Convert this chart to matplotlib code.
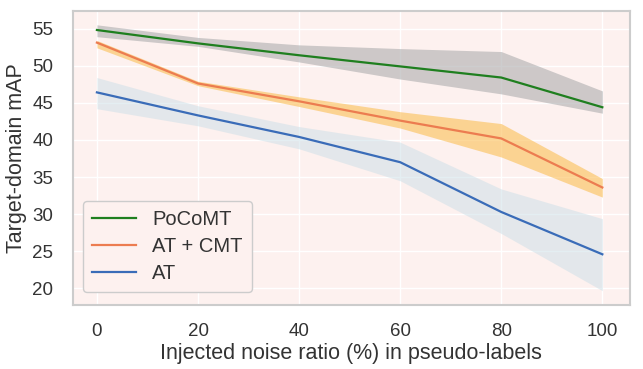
import numpy as np
import matplotlib.pyplot as plt

# noise ratio (%) injected into pseudo-labels
noise = [0, 20, 40, 60, 80, 100]

# mean target-domain mAP and band limits
pocomt = [54.8, 53.0, 51.4, 49.9, 48.4, 44.4]
pocomt_hi = [55.5, 53.8, 52.8, 52.3, 51.9, 46.6]
pocomt_lo = [53.9, 52.6, 50.5, 48.2, 46.2, 43.6]

atcmt = [53.1, 47.6, 45.2, 42.6, 40.2, 33.6]
atcmt_hi = [53.4, 47.9, 45.8, 43.8, 42.2, 34.8]
atcmt_lo = [52.4, 47.3, 44.5, 41.6, 37.7, 32.3]

at = [46.4, 43.3, 40.4, 37.0, 30.3, 24.6]
at_hi = [48.4, 44.6, 41.8, 39.7, 33.4, 29.4]
at_lo = [44.2, 41.9, 38.8, 34.5, 27.4, 19.7]

yticks = [20, 25, 30, 35, 40, 45, 50, 55]
xticks = [0, 20, 40, 60, 80, 100]

plt.rcParams['font.family'] = ['Liberation Sans', 'DejaVu Sans']

fig = plt.figure(figsize=(6.43, 3.69), dpi=100)
ax = fig.add_axes([0.113, 0.174, 0.867, 0.795])
ax.set_facecolor('#fdf1ef')

ax.fill_between(noise, pocomt_lo, pocomt_hi, color='#adadae', alpha=0.6, lw=0)
ax.fill_between(noise, atcmt_lo, atcmt_hi, color='#fbbf55', alpha=0.6, lw=0)
ax.fill_between(noise, at_lo, at_hi, color='#cfe0e8', alpha=0.55, lw=0)

ax.plot(noise, pocomt, color='#1f7f1f', lw=1.6, label='PoCoMT')
ax.plot(noise, atcmt, color='#ec7c50', lw=1.6, label='AT + CMT')
ax.plot(noise, at, color='#3a6cb8', lw=1.6, label='AT')

ax.set_xlim(-4.8, 105.5)
ax.set_ylim(17.8, 57.3)
ax.set_xticks(xticks)
ax.set_yticks(yticks)
ax.grid(True, color='white', lw=1.0)
ax.set_axisbelow(True)
ax.tick_params(length=0, labelsize=13.5, colors='#333333')
ax.tick_params(axis='x', pad=13)
ax.tick_params(axis='y', pad=14)
for s in ax.spines.values():
    s.set_color('#cccccc')
    s.set_linewidth(1.5)

ax.set_xlabel('Injected noise ratio (%) in pseudo-labels', fontsize=15.5, color='#333333', labelpad=2)
ax.set_ylabel('Target-domain mAP', fontsize=15.5, color='#333333', labelpad=4)

leg = ax.legend(loc='lower left', fontsize=14.5, frameon=True, borderpad=0.45,
                handlelength=2.2, handletextpad=0.8, labelspacing=0.4,
                bbox_to_anchor=(0.0, 0.01))
leg.get_frame().set_facecolor('#fdf1ef')
leg.get_frame().set_edgecolor('#cccccc')
leg.get_frame().set_alpha(1.0)
for t in leg.get_texts():
    t.set_color('#333333')

fig.savefig('out.png', dpi=100)
